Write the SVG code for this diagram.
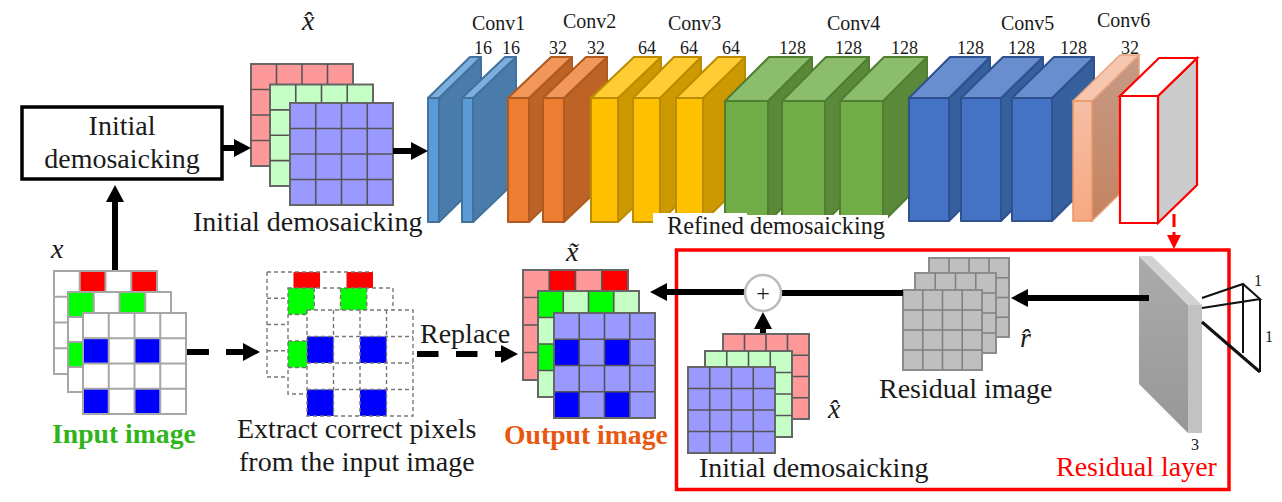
<svg xmlns="http://www.w3.org/2000/svg" width="1282" height="502" viewBox="0 0 1282 502">
<style>
text{font-family:"Liberation Serif","Times New Roman",serif;fill:#1a1a1a}
.t28{font-size:28px}.t24{font-size:24.3px}.t20{font-size:20px}.t18{font-size:18px}.t16{font-size:16px}
.m{font-size:28px;font-style:italic}
.mid{text-anchor:middle}
.bold{font-weight:bold;font-size:27.7px}
.conn{fill:none;stroke:#000;stroke-width:6}
.R{fill:#ff9999}.G{fill:#c6ffc6}.B{fill:#9999ff}.Gy{fill:#bfbfbf}.W{fill:#fff}
.r{fill:#f00}.g{fill:#0f0}.b{fill:#00f}
.dk{stroke:#666;stroke-width:2}
.ln{fill:none;stroke:#555;stroke-width:1.6}
.inln{fill:none;stroke:#a6a6a6;stroke-width:2}
.dsh{fill:none;stroke:#777;stroke-width:1.4;stroke-dasharray:4 3}
.gyln{fill:none;stroke:#808080;stroke-width:1.6}
.blk polygon{stroke-width:2;stroke-linejoin:round}
.c1 polygon{stroke:#41719c}.c1 .f{fill:#5b9bd5}.c1 .s{fill:#4a7cab}.c1 .u{fill:#7cafde}
.c2 polygon{stroke:#ae5a21}.c2 .f{fill:#ed7d31}.c2 .s{fill:#be6326}.c2 .u{fill:#f1975a}
.c3 polygon{stroke:#bc8c00}.c3 .f{fill:#ffc000}.c3 .s{fill:#cc9a00}.c3 .u{fill:#ffcd33}
.c4 polygon{stroke:#507e32}.c4 .f{fill:#70ad47}.c4 .s{fill:#5a8a39}.c4 .u{fill:#8cbd6c}
.c5 polygon{stroke:#2f528f}.c5 .f{fill:#4472c4}.c5 .s{fill:#365f9d}.c5 .u{fill:#698ecf}
</style>
<defs>
<marker id="ah" markerUnits="userSpaceOnUse" markerWidth="17" markerHeight="18" refX="7" refY="9" orient="auto"><path d="M0 0L17 9L0 18z" fill="#000"/></marker>
<marker id="ahr" markerUnits="userSpaceOnUse" markerWidth="14" markerHeight="14" refX="6" refY="7" orient="auto"><path d="M0 0L14 7L0 14z" fill="#f00"/></marker>
<linearGradient id="pf" x1="0" y1="0" x2="0" y2="1"><stop offset="0" stop-color="#f4bea6"/><stop offset="1" stop-color="#f8a981"/></linearGradient>
<linearGradient id="ps" x1="0" y1="0" x2="0" y2="1"><stop offset="0" stop-color="#c69a86"/><stop offset="1" stop-color="#c48360"/></linearGradient>
<linearGradient id="gs" x1="0" y1="0" x2="0" y2="1"><stop offset="0" stop-color="#ababab"/><stop offset="1" stop-color="#979797"/></linearGradient>
</defs>

<g id="node-box-initial">
<rect x="22" y="107" width="200" height="72" fill="#fff" stroke="#000" stroke-width="3.5"/>
<text class="t28 mid" x="122" y="135">Initial</text>
<text class="t28 mid" x="122" y="168">demosaicking</text>
</g>

<g id="node-stack-xhat-top">
<rect class="R dk" x="251" y="64" width="102" height="102"/><path class="ln" d="M276.5 64V166M302 64V166M327.5 64V166M251 89.5H353M251 115H353M251 140.5H353"/>
<rect class="G dk" x="270" y="84.5" width="103" height="101.5"/><path class="ln" d="M295.75 84.5V186M321.5 84.5V186M347.25 84.5V186M270 109.9H373M270 135.25H373M270 160.6H373"/>
<rect class="B dk" x="290" y="103" width="103" height="102"/><path class="ln" d="M315.75 103V205M341.5 103V205M367.25 103V205M290 128.5H393M290 154H393M290 179.5H393"/>
<text class="m" x="302" y="30">x̂</text>
<text class="t28" x="193" y="231">Initial demosaicking</text>
</g>

<g id="node-conv1">
<g class="blk c1"><polygon class="s" points="439,98 481,57 481,181 439,222"/><polygon class="u" points="428,98 470,57 481,57 439,98"/><polygon class="f" points="428,98 439,98 439,222 428,222"/></g>
<g class="blk c1"><polygon class="s" points="473,98 516,57 516,181 473,222"/><polygon class="u" points="462,98 505,57 516,57 473,98"/><polygon class="f" points="462,98 473,98 473,222 462,222"/></g>
<text class="t20" x="472" y="30">Conv1</text><text class="t18" x="474" y="54">16</text><text class="t18" x="502" y="54">16</text>
</g>
<g id="node-conv2">
<g class="blk c2"><polygon class="s" points="529,98 572,57 572,181 529,222"/><polygon class="u" points="508,98 551,57 572,57 529,98"/><polygon class="f" points="508,98 529,98 529,222 508,222"/></g>
<g class="blk c2"><polygon class="s" points="564,98 607,57 607,181 564,222"/><polygon class="u" points="543,98 586,57 607,57 564,98"/><polygon class="f" points="543,98 564,98 564,222 543,222"/></g>
<text class="t20" x="563" y="28">Conv2</text><text class="t18" x="549" y="54">32</text><text class="t18" x="587" y="54">32</text>
</g>
<g id="node-conv3">
<g class="blk c3"><polygon class="s" points="618,98 661,57 661,181 618,222"/><polygon class="u" points="591,98 634,57 661,57 618,98"/><polygon class="f" points="591,98 618,98 618,222 591,222"/></g>
<g class="blk c3"><polygon class="s" points="660,98 701,57 701,181 660,222"/><polygon class="u" points="633,98 674,57 701,57 660,98"/><polygon class="f" points="633,98 660,98 660,222 633,222"/></g>
<g class="blk c3"><polygon class="s" points="703,98 745,57 745,181 703,222"/><polygon class="u" points="676,98 718,57 745,57 703,98"/><polygon class="f" points="676,98 703,98 703,222 676,222"/></g>
<text class="t20" x="668" y="30">Conv3</text><text class="t18" x="638" y="54">64</text><text class="t18" x="680" y="54">64</text><text class="t18" x="722" y="54">64</text>
</g>
<g id="node-conv4">
<g class="blk c4"><polygon class="s" points="768,101 812,57 812,178 768,222"/><polygon class="u" points="725,101 769,57 812,57 768,101"/><polygon class="f" points="725,101 768,101 768,222 725,222"/></g>
<g class="blk c4"><polygon class="s" points="825,101 869,57 869,178 825,222"/><polygon class="u" points="782,101 826,57 869,57 825,101"/><polygon class="f" points="782,101 825,101 825,222 782,222"/></g>
<g class="blk c4"><polygon class="s" points="883,101 927,57 927,178 883,222"/><polygon class="u" points="840,101 884,57 927,57 883,101"/><polygon class="f" points="840,101 883,101 883,222 840,222"/></g>
<text class="t20" x="827" y="30">Conv4</text><text class="t18" x="779" y="54">128</text><text class="t18" x="835" y="54">128</text><text class="t18" x="891" y="54">128</text>
</g>
<g id="node-conv5">
<g class="blk c5"><polygon class="s" points="949,98 990,57 990,180 949,221"/><polygon class="u" points="909,98 950,57 990,57 949,98"/><polygon class="f" points="909,98 949,98 949,221 909,221"/></g>
<g class="blk c5"><polygon class="s" points="1001,98 1043,57 1043,179 1001,221"/><polygon class="u" points="961,98 1003,57 1043,57 1001,98"/><polygon class="f" points="961,98 1001,98 1001,221 961,221"/></g>
<g class="blk c5"><polygon class="s" points="1052,98 1094,57 1094,179 1052,221"/><polygon class="u" points="1012,98 1054,57 1094,57 1052,98"/><polygon class="f" points="1012,98 1052,98 1052,221 1012,221"/></g>
<text class="t20" x="1001" y="30">Conv5</text><text class="t18" x="957" y="54">128</text><text class="t18" x="1008" y="54">128</text><text class="t18" x="1060" y="54">128</text>
</g>
<g id="node-conv6">
<polygon points="1092,101 1139,55 1139,175 1092,221" fill="url(#ps)" stroke="#e8a57c" stroke-width="1.5"/>
<polygon points="1073,101 1120,55 1139,55 1092,101" fill="#f6c6af" stroke="#e8a57c" stroke-width="1.5"/>
<polygon points="1073,101 1092,101 1092,221 1073,221" fill="url(#pf)" stroke="#e8955f" stroke-width="1.5"/>
<polygon points="1158,96 1197,58 1197,185 1158,223" fill="#ccc" stroke="#f00" stroke-width="2.2"/>
<polygon points="1120,96 1159,58 1197,58 1158,96" fill="#fff" stroke="#f00" stroke-width="2.2"/>
<polygon points="1120,96 1158,96 1158,223 1120,223" fill="#fff" stroke="#f00" stroke-width="2.2"/>
<text class="t20" x="1097" y="27">Conv6</text><text class="t18" x="1121" y="54">32</text>
</g>

<g id="node-refined-label">
<path d="M653 213H747V215H888V244H653z" fill="#fff"/>
<text class="t24" x="667" y="234">Refined demosaicking</text>
</g>

<g id="node-residual-frame">
<rect x="676.5" y="250" width="552.5" height="239.500" fill="none" stroke="#f00" stroke-width="3.500"/>
<text class="t28" x="1056" y="476" style="fill:#f00">Residual layer</text>
</g>

<g id="node-input-image">
<rect class="W" x="54" y="271" width="103" height="103"/>
<rect class="r" x="79.750" y="271" width="25.750" height="25.750"/><rect class="r" x="131.250" y="271" width="25.750" height="25.750"/>
<rect x="54" y="271" width="103" height="103" class="inln"/><path class="inln" d="M79.750 271V374M105.500 271V374M131.250 271V374M54 296.750H157M54 322.500H157M54 348.250H157"/>
<rect class="W" x="68" y="292" width="103" height="100"/>
<rect class="g" x="68" y="292" width="25.750" height="25"/><rect class="g" x="119.500" y="292" width="25.750" height="25"/><rect class="g" x="68" y="342" width="25.750" height="25"/>
<rect x="68" y="292" width="103" height="100" class="inln"/><path class="inln" d="M93.750 292V392M119.500 292V392M145.250 292V392M68 317H171M68 342H171M68 367H171"/>
<rect class="W" x="83" y="313" width="103" height="101"/>
<rect class="b" x="83" y="338.250" width="25.750" height="25.250"/><rect class="b" x="134.500" y="338.250" width="25.750" height="25.250"/><rect class="b" x="83" y="388.750" width="25.750" height="25.250"/><rect class="b" x="134.500" y="388.750" width="25.750" height="25.250"/>
<rect x="83" y="313" width="103" height="101" class="inln"/><path class="inln" d="M108.750 313V414M134.500 313V414M160.250 313V414M83 338.250H186M83 363.500H186M83 388.750H186"/>
<text class="m" x="51" y="258">x</text>
<text class="bold" x="52" y="443" style="fill:#2fb51a">Input image</text>
</g>

<g id="node-extract">
<rect class="W" x="267" y="272" width="106" height="105"/>
<rect class="r" x="293.500" y="272" width="26.500" height="26.250"/><rect class="r" x="346.500" y="272" width="26.500" height="26.250"/>
<path class="dsh" d="M267 272H373M267 298.250H293M267 324.500H293M267 350.750H293M267 377H293M267 272V377"/>
<rect class="W" x="288" y="288" width="105" height="106"/>
<rect class="g" x="288" y="288" width="26.250" height="26.500"/><rect class="g" x="340.500" y="288" width="26.250" height="26.500"/><rect class="g" x="288" y="341" width="26.250" height="26.500"/>
<rect x="288" y="288" width="105" height="106" class="dsh"/><path class="dsh" d="M314.250 288V394M340.500 288V394M366.750 288V394M288 314.500H393M288 341H393M288 367.500H393"/>
<rect class="W" x="307" y="310" width="106" height="106"/>
<rect class="b" x="307" y="336.500" width="26.500" height="26.500"/><rect class="b" x="360" y="336.500" width="26.500" height="26.500"/><rect class="b" x="307" y="389.500" width="26.500" height="26.500"/><rect class="b" x="360" y="389.500" width="26.500" height="26.500"/>
<rect x="307" y="310" width="106" height="106" class="dsh"/><path class="dsh" d="M333.500 310V416M360 310V416M386.500 310V416M307 336.500H413M307 363H413M307 389.500H413"/>
<text class="t28" x="237" y="438">Extract correct pixels</text>
<text class="t28" x="239" y="471">from the input image</text>
<text class="t28" x="420" y="343">Replace</text>
</g>

<g id="node-output-image">
<rect class="R dk" x="523" y="270" width="105" height="110"/>
<rect class="r" x="549.250" y="270" width="26.250" height="27.500"/><rect class="r" x="601.750" y="270" width="26.250" height="27.500"/>
<path class="ln" d="M549.250 270V380M575.500 270V380M601.750 270V380M523 297.500H628M523 325H628M523 352.500H628"/><rect x="523" y="270" width="105" height="110" fill="none" class="dk"/>
<rect class="G" x="538" y="291" width="101" height="106"/>
<rect class="g" x="538" y="291" width="25.250" height="26.500"/><rect class="g" x="588.500" y="291" width="25.250" height="26.500"/><rect class="g" x="538" y="344" width="25.250" height="26.500"/>
<path class="ln" d="M563.250 291V397M588.500 291V397M613.750 291V397M538 317.500H639M538 344H639M538 370.500H639"/><rect x="538" y="291" width="101" height="106" fill="none" class="dk"/>
<rect class="B" x="554" y="313" width="101" height="105"/>
<rect class="b" x="554" y="339.250" width="25.250" height="26.250"/><rect class="b" x="604.500" y="339.250" width="25.250" height="26.250"/><rect class="b" x="554" y="391.750" width="25.250" height="26.250"/><rect class="b" x="604.500" y="391.750" width="25.250" height="26.250"/>
<path class="ln" d="M579.250 313V418M604.500 313V418M629.750 313V418M554 339.250H655M554 365.500H655M554 391.750H655"/><rect x="554" y="313" width="101" height="105" fill="none" class="dk"/>
<text class="m" x="566" y="261">x̃</text>
<text class="bold" x="504" y="444" style="fill:#e8580f">Output image</text>
</g>

<g id="node-stack-xhat-bottom">
<rect class="R dk" x="723" y="334" width="86" height="85"/><path class="ln" d="M744.500 334V419M766 334V419M787.500 334V419M723 355.250H809M723 376.500H809M723 397.750H809"/>
<rect class="G dk" x="705" y="351" width="87" height="86"/><path class="ln" d="M726.750 351V437M748.500 351V437M770.250 351V437M705 372.500H792M705 394H792M705 415.500H792"/>
<rect class="B dk" x="688" y="367" width="87" height="86"/><path class="ln" d="M709.750 367V453M731.500 367V453M753.250 367V453M688 388.500H775M688 410H775M688 431.500H775"/>
<text class="m" x="828" y="418">x̂</text>
<text class="t28" x="699" y="477">Initial demosaicking</text>
</g>

<g id="node-residual-image">
<rect class="Gy dk" x="929" y="258" width="80" height="79" style="stroke:#8c8c8c"/><path class="gyln" d="M949 258V337M969 258V337M989 258V337M929 277.750H1009M929 297.500H1009M929 317.250H1009"/>
<rect class="Gy dk" x="915" y="273" width="81" height="80" style="stroke:#8c8c8c"/><path class="gyln" d="M935.250 273V353M955.500 273V353M975.750 273V353M915 293H996M915 313H996M915 333H996"/>
<rect class="Gy dk" x="903" y="290" width="79" height="80" style="stroke:#8c8c8c"/><path class="gyln" d="M922.750 290V370M942.500 290V370M962.250 290V370M903 310H982M903 330H982M903 350H982"/>
<text class="m" x="1020" y="347">r̂</text>
<text class="t28" x="879" y="398">Residual image</text>
</g>

<g id="node-residual-block">
<polygon points="1139,256 1188,305 1188,433 1139,384" fill="url(#gs)"/>
<polygon points="1139,256 1152,256 1202,305 1188,305" fill="#d2d2d2"/>
<rect x="1188" y="305" width="14" height="128" fill="#c2c2c2"/>
<text class="t16" x="1191" y="450">3</text>
</g>

<g id="node-kernel" fill="none" stroke="#111">
<path stroke-width="2" d="M1202 298L1243 284L1260 299L1202 308M1243 284V353M1260 299V372"/>
<path stroke-width="3" d="M1202 322L1260 372"/>
<text class="t16" x="1254" y="286" style="stroke:none">1</text>
<text class="t16" x="1265" y="342" style="stroke:none">1</text>
</g>

<g id="connectors">
<path class="conn" d="M115 270V195" marker-end="url(#ah)"/>
<path class="conn" d="M222 148H241" marker-end="url(#ah)"/>
<path class="conn" d="M393 151H418" marker-end="url(#ah)"/>
<path class="conn" d="M187 352H250" stroke-dasharray="22 17" marker-end="url(#ah)"/>
<path class="conn" d="M417 354H508" stroke-dasharray="21.500 17.500" marker-end="url(#ah)"/>
<path class="conn" d="M745 292H660" marker-end="url(#ah)"/>
<path class="conn" d="M782 293H903"/>
<path class="conn" d="M763 333V322" marker-end="url(#ah)"/>
<path class="conn" d="M1149 298H1021" marker-end="url(#ah)"/>
<path d="M1174 214V241" fill="none" stroke="#f00" stroke-width="3" stroke-dasharray="13 5" marker-end="url(#ahr)"/>
</g>

<g id="node-plus">
<circle cx="763" cy="293" r="18" fill="#fff" stroke="#bbb" stroke-width="2.500"/>
<text class="mid" x="763" y="301" style="font-size:24px">+</text>
</g>
</svg>
